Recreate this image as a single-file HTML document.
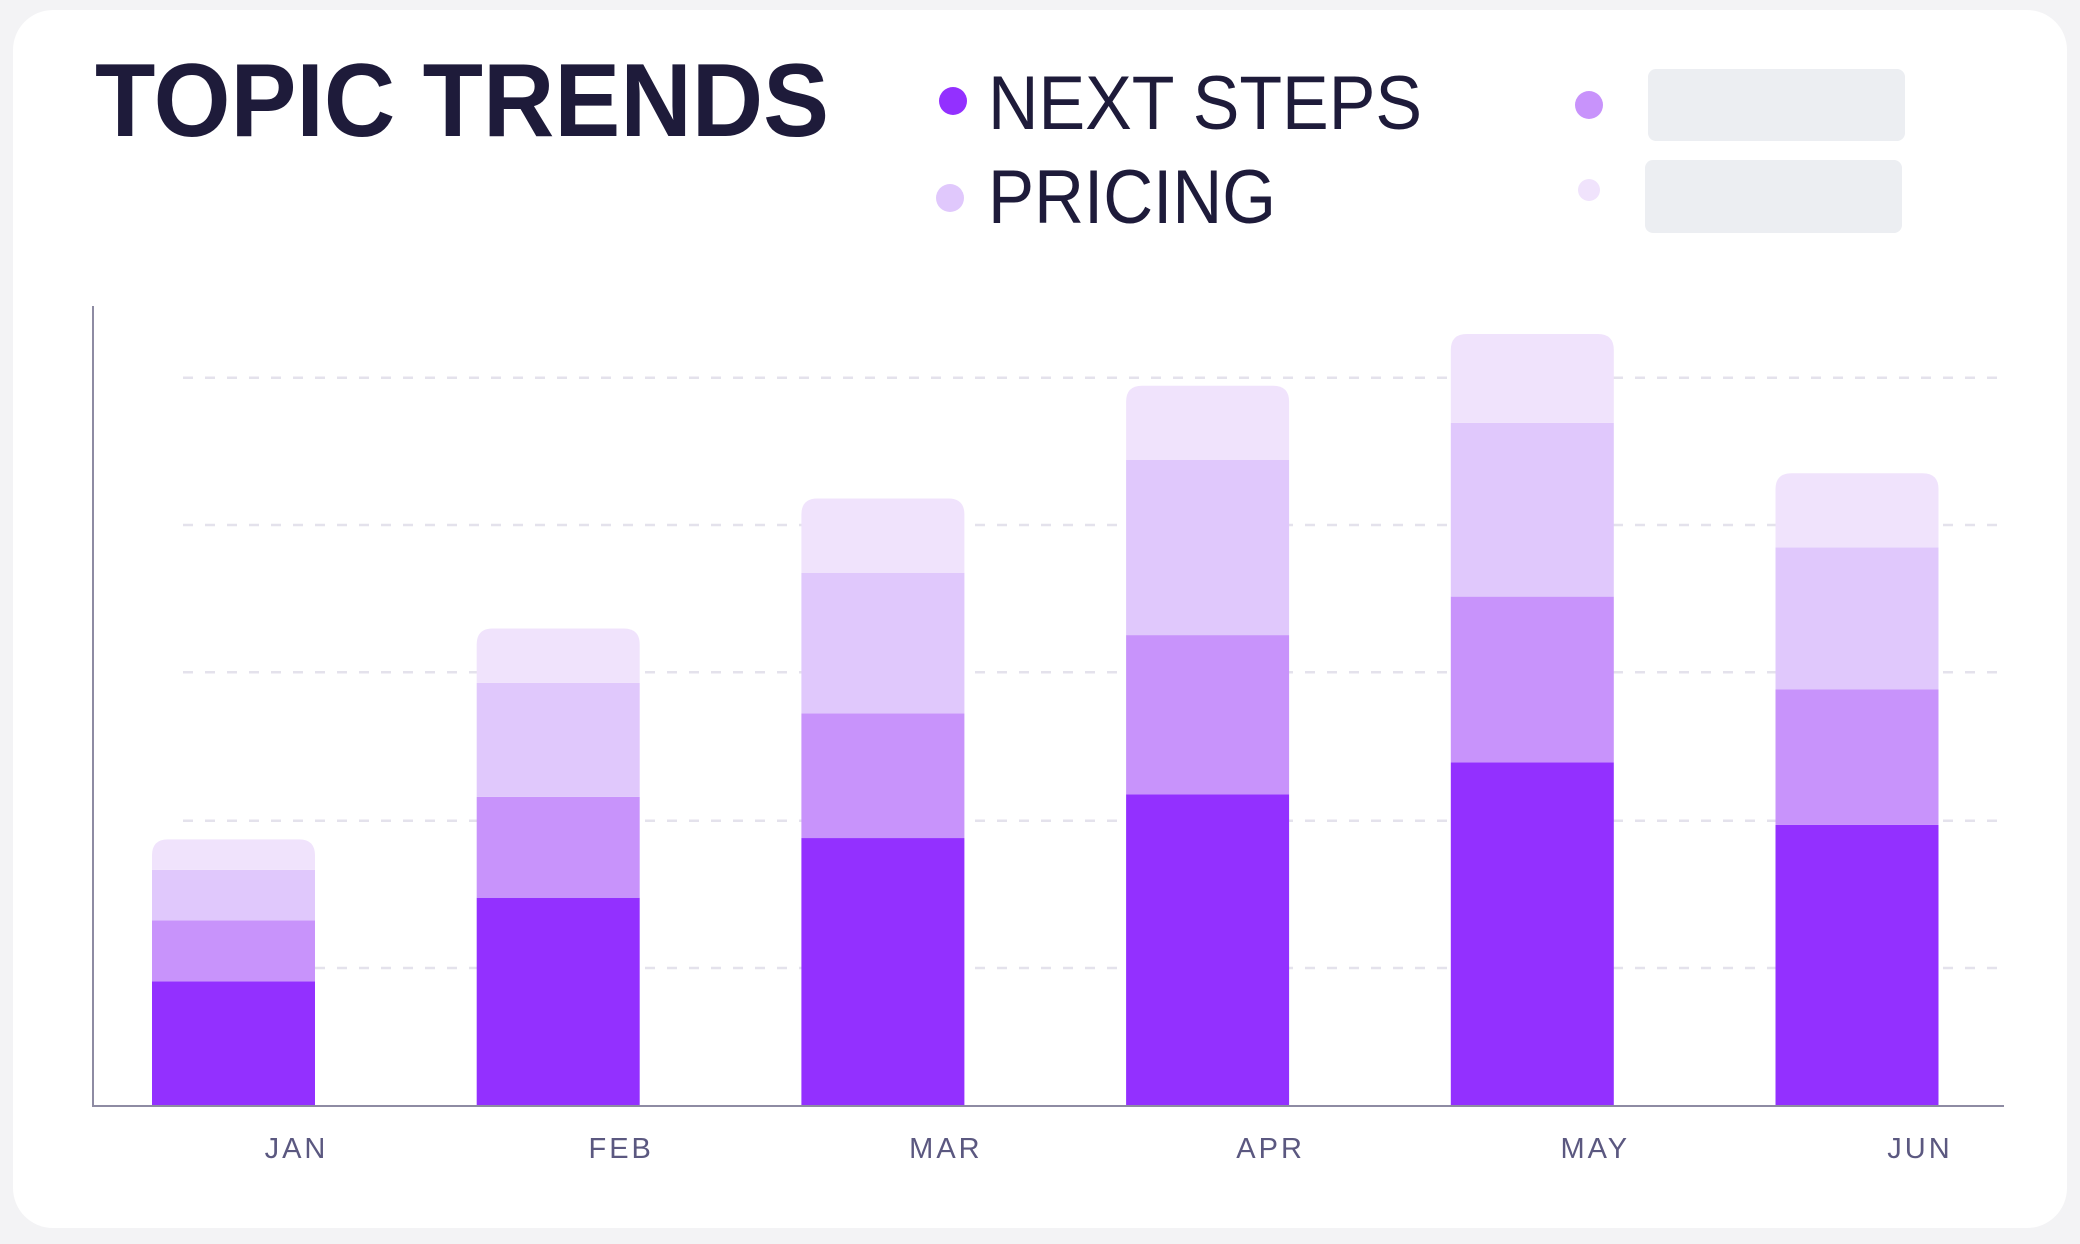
<!DOCTYPE html>
<html><head><meta charset="utf-8"><style>
html,body{margin:0;padding:0;background:#f3f3f5;width:2080px;height:1244px;overflow:hidden}
svg{display:block}
</style></head><body>
<svg width="2080" height="1244" viewBox="0 0 2080 1244" xmlns="http://www.w3.org/2000/svg">
<rect x="13" y="10" width="2054" height="1218" rx="40" fill="#ffffff"/>
<text x="95" y="136" font-family="Liberation Sans, sans-serif" font-weight="bold" font-size="104" fill="#1e1b3a" textLength="734" lengthAdjust="spacingAndGlyphs">TOPIC TRENDS</text>
<g>
<g><circle cx="953" cy="101" r="14" fill="#9330ff"/><text x="988" y="129" font-family="Liberation Sans, sans-serif" font-size="76" fill="#1e1b3a" textLength="434" lengthAdjust="spacingAndGlyphs">NEXT STEPS</text></g>
<g><circle cx="950" cy="198" r="14" fill="#e0c8fc"/><text x="988" y="223" font-family="Liberation Sans, sans-serif" font-size="76" fill="#1e1b3a" textLength="288" lengthAdjust="spacingAndGlyphs">PRICING</text></g>
<g><circle cx="1589" cy="105" r="14" fill="#c893fb"/><rect x="1648" y="69" width="257" height="72" rx="8" fill="#eceef2"/></g>
<g><circle cx="1589" cy="190" r="11" fill="#f0e3fc"/><rect x="1645" y="160" width="257" height="73" rx="8" fill="#eceef2"/></g>
</g>
<g id="grid"></g>
<g id="bars"></g>
<line x1="93" y1="306" x2="93" y2="1106" stroke="#8e8ba3" stroke-width="2"/>
<line x1="92" y1="1106" x2="2004" y2="1106" stroke="#8e8ba3" stroke-width="2"/>
<g id="xlabels"></g>
</svg>
<script>
const categories = ["JAN","FEB","MAR","APR","MAY","JUN"];
const seriesNextSteps = [94,157,202,235,259,212];
const seriesSeries2 = [46,76,94,120,125,102];
const seriesPricing = [38,86,106,132,131,107];
const seriesSeries4 = [23,41,56,56,67,56];
const gridTicks = [104,215,327,438,549];
const colors = ["#9330ff","#c893fb","#e0c8fc","#f0e3fc"];
const NS="http://www.w3.org/2000/svg";
const baseY=1106, k=1.3265, x0=152, step=324.7, barW=163, r=16;
function yScale(v){return baseY - v*k;}
function xScale(i){return x0 + i*step;}
const grid=document.getElementById('grid');
gridTicks.forEach(t=>{
  const l=document.createElementNS(NS,'line');
  l.setAttribute('x1',183);l.setAttribute('x2',2004);
  l.setAttribute('y1',yScale(t));l.setAttribute('y2',yScale(t));
  l.setAttribute('stroke','#e4e2ec');l.setAttribute('stroke-width','2.5');
  l.setAttribute('stroke-dasharray','10 12');
  
  
  grid.appendChild(l);
});
const bars=document.getElementById('bars');
const all=[seriesNextSteps,seriesSeries2,seriesPricing,seriesSeries4];
categories.forEach((c,i)=>{
  let cum=0;
  const x=xScale(i);
  all.forEach((s,j)=>{
    const y1=yScale(cum), y2=yScale(cum+s[i]);
    cum+=s[i];
    let el;
    if(j===all.length-1){
      el=document.createElementNS(NS,'path');
      const h=y1-y2, rr=Math.min(r,h);
      el.setAttribute('d',`M${x},${y1} L${x},${y2+rr} Q${x},${y2} ${x+rr},${y2} L${x+barW-rr},${y2} Q${x+barW},${y2} ${x+barW},${y2+rr} L${x+barW},${y1} Z`);
    } else {
      el=document.createElementNS(NS,'rect');
      el.setAttribute('x',x);el.setAttribute('y',y2);
      el.setAttribute('width',barW);el.setAttribute('height',y1-y2);
    }
    el.setAttribute('fill',colors[j]);
    
    
    bars.appendChild(el);
  });
  const t=document.createElementNS(NS,'text');
  t.setAttribute('x',x+barW/2+63);t.setAttribute('y',1158);
  t.setAttribute('text-anchor','middle');
  t.setAttribute('font-family','Liberation Sans, sans-serif');
  t.setAttribute('font-size','29');t.setAttribute('letter-spacing','3');
  t.setAttribute('fill','#5b5880');
  t.textContent=c;
  
  
  document.getElementById('xlabels').appendChild(t);
});
</script>
</body></html>
